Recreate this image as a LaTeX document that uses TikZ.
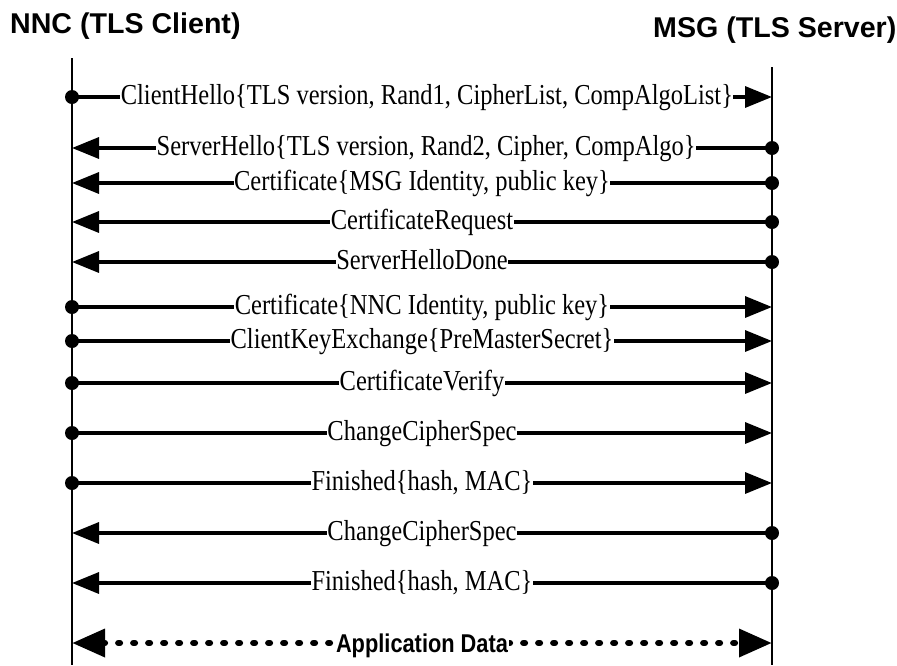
\documentclass[tikz,border=0pt]{standalone}
\usepackage{fontspec}
\setmainfont{Liberation Serif}
\setsansfont{Liberation Sans}
\usetikzlibrary{arrows.meta}
\begin{document}
\begin{tikzpicture}[x=1pt,y=-1pt,
  lifeline/.style={line width=1.4pt},
  msgline/.style={line width=3.4pt, -{Triangle[length=27pt,width=21pt]}},
  enddot/.style={fill=black},
  appline/.style={line width=6.5pt, line cap=round, dash pattern=on 1.5pt off 13.5pt,
    {Triangle[length=33pt,width=27pt]}-{Triangle[length=33pt,width=27pt]}},
  lbl/.style={fill=white, inner xsep=0.5pt, inner ysep=0pt, anchor=base, yshift=-7.8pt,
    font=\fontsize{24.5}{24.5}\selectfont},
  applbl/.style={fill=white, inner xsep=0.5pt, inner ysep=0pt, anchor=base, yshift=-9pt,
    font=\sffamily\bfseries\fontsize{21.8}{21.8}\selectfont},
  title/.style={anchor=base west, inner sep=0pt,
    font=\sffamily\bfseries\fontsize{28.6}{28.6}\selectfont},
]
\useasboundingbox (0,0) rectangle (897,665);
\newcommand{\vs}[1]{\scalebox{1}[1.18]{#1}}

% titles
\node[title] (client) at (10,33) {NNC (TLS Client)};
\node[title] (server) at (653,37) {MSG (TLS Server)};

% lifelines
\coordinate (Ltop) at (72,58);
\coordinate (Lbot) at (72,665);
\coordinate (Rtop) at (772,67);
\coordinate (Rbot) at (772,665);
\draw[lifeline] (Ltop) -- (Lbot);
\draw[lifeline] (Rtop) -- (Rbot);

% message end points
\foreach \i/\y in {1/97,2/148,3/183,4/222,5/262,6/307,7/341,8/383,9/433,10/483,11/533,12/583,13/643}{
  \coordinate (c\i) at (72,\y);
  \coordinate (s\i) at (772,\y);
}

\draw[msgline] (c1) -- node[lbl,pos=0.507] {\vs{ClientHello\{TLS version, Rand1, CipherList, CompAlgoList\}}} (s1);
\draw[msgline] (s2) -- node[lbl,pos=0.494] {\vs{ServerHello\{TLS version, Rand2, Cipher, CompAlgo\}}} (c2);
\draw[msgline] (s3) -- node[lbl] {\vs{Certificate\{MSG Identity, public key\}}} (c3);
\draw[msgline] (s4) -- node[lbl] {\vs{CertificateRequest}} (c4);
\draw[msgline] (s5) -- node[lbl] {\vs{ServerHelloDone}} (c5);
\draw[msgline] (c6) -- node[lbl] {\vs{Certificate\{NNC Identity, public key\}}} (s6);
\draw[msgline] (c7) -- node[lbl] {\vs{ClientKeyExchange\{PreMasterSecret\}}} (s7);
\draw[msgline] (c8) -- node[lbl] {\vs{CertificateVerify}} (s8);
\draw[msgline] (c9) -- node[lbl] {\vs{ChangeCipherSpec}} (s9);
\draw[msgline] (c10) -- node[lbl] {\vs{Finished\{hash, MAC\}}} (s10);
\draw[msgline] (s11) -- node[lbl] {\vs{ChangeCipherSpec}} (c11);
\draw[msgline] (s12) -- node[lbl] {\vs{Finished\{hash, MAC\}}} (c12);
\draw[appline] (c13) -- node[applbl] {\vs{Application Data}} (s13);

% start dots
\foreach \p in {c1,s2,s3,s4,s5,c6,c7,c8,c9,c10,s11,s12}{
  \fill[enddot] (\p) circle[radius=7pt];
}
\end{tikzpicture}
\end{document}
